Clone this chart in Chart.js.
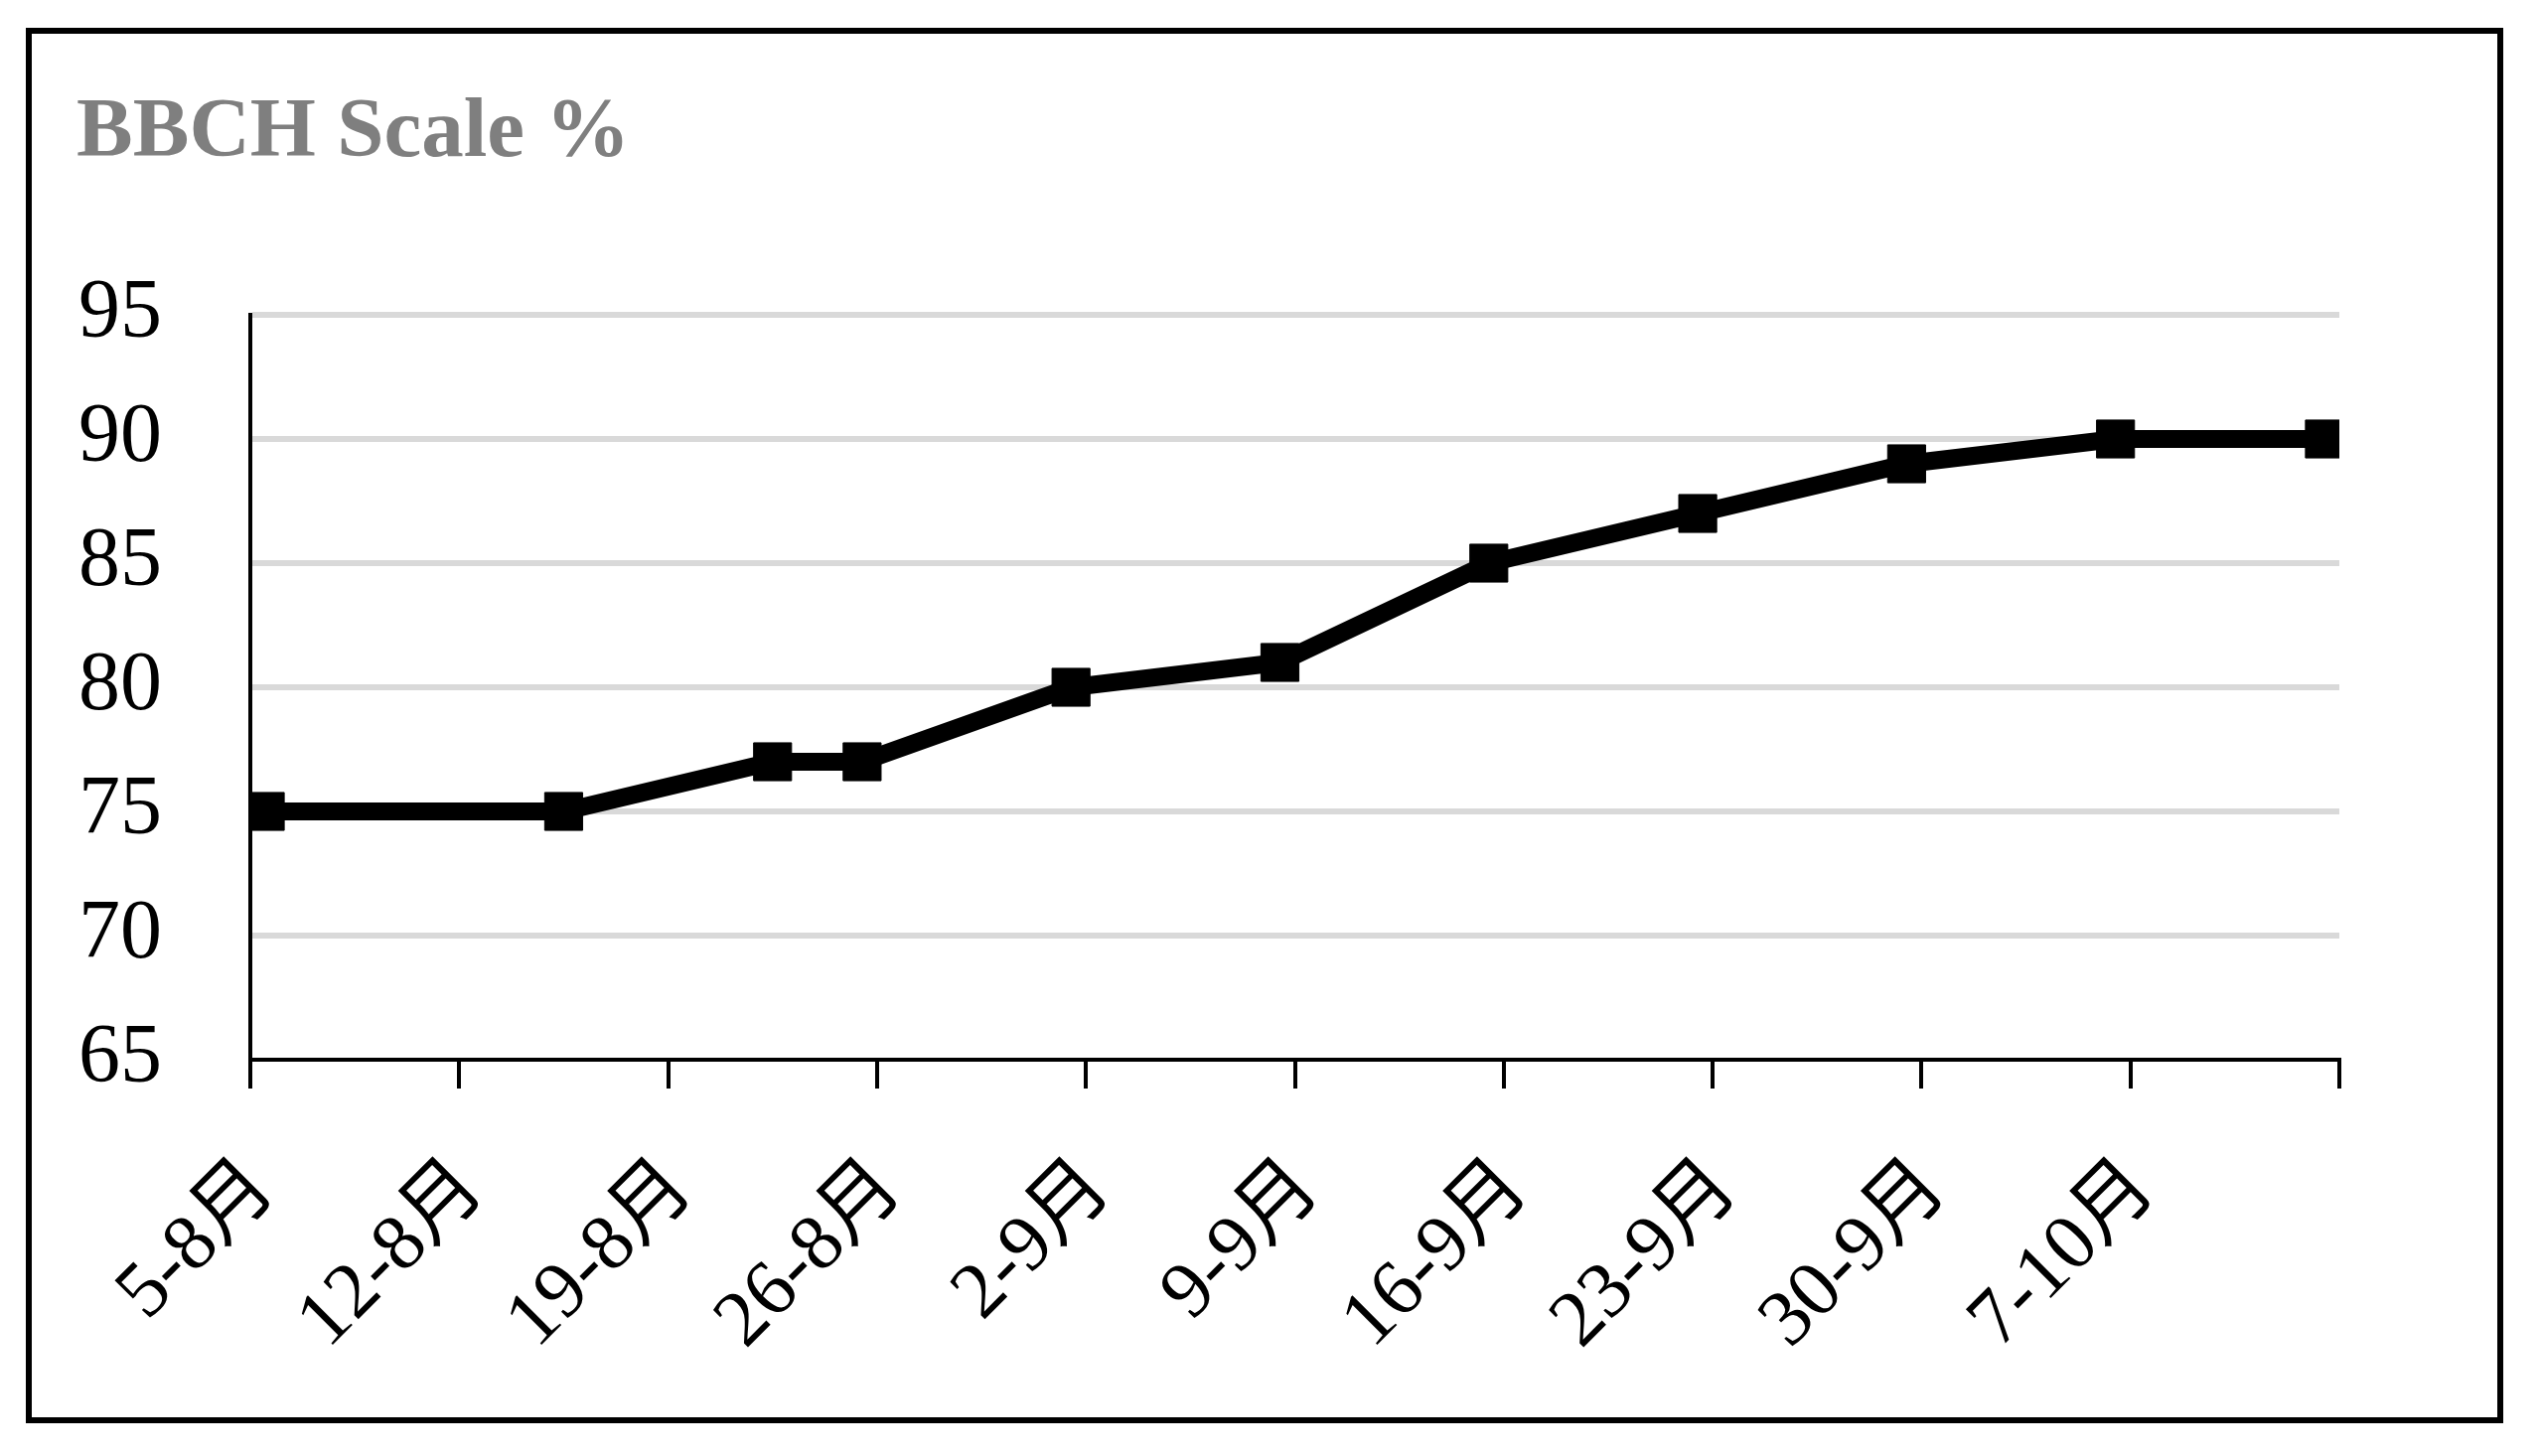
<!DOCTYPE html>
<html>
<head>
<meta charset="utf-8">
<script src="https://cdn.jsdelivr.net/npm/chart.js@4.4.0/dist/chart.umd.min.js"></script>
<style>
    html, body { margin: 0; padding: 0; background: #fff; }
    #wrap { position: relative; width: 2558px; height: 1466px; }
    #frame {
        position: absolute; left: 26px; top: 28px; width: 2494px; height: 1405px;
        box-sizing: border-box; border: 6px solid #000; pointer-events: none;
    }
    canvas { position: absolute; left: 0; top: 0; }
</style>
</head>
<body>
<div id="wrap">
    <canvas id="chart" width="2558" height="1466"></canvas>
    <div id="frame"></div>
</div>
<script>
// sampling dates (day-month) and BBCH values
const sampleDates = ['5-8', '15-8', '22-8', '25-8', '1-9', '8-9', '15-9', '22-9', '29-9', '6-10', '13-10'];
const bbchValues = [75, 75, 77, 77, 80, 81, 85, 87, 89, 90, 90];

// weekly date axis, starting 5 Aug
const axisStart = '5-8';
const axisDays = 70;
const tickLabels = ['5-8月', '12-8月', '19-8月', '26-8月', '2-9月', '9-9月', '16-9月', '23-9月', '30-9月', '7-10月'];

const yMin = 65;
const yMax = 95;

function dayOf(dm) {
    const [d, m] = dm.split('-').map(Number);
    return Date.UTC(2020, m - 1, d) / 86400000;
}

// Excel date axis puts each point in the middle of its day
const points = sampleDates.map((dm, i) => ({
    x: dayOf(dm) - dayOf(axisStart) + 0.5,
    y: bbchValues[i],
}));

const serif = '"Liberation Serif", "Noto Sans CJK SC", serif';

new Chart(document.getElementById('chart'), {
    type: 'line',
    data: {
        datasets: [{
            data: points,
            borderColor: '#000',
            backgroundColor: '#000',
            borderWidth: 18,
            tension: 0,
            pointStyle: 'rect',
            pointRadius: 27,
            pointBorderWidth: 1,
            pointBackgroundColor: '#000',
            pointBorderColor: '#000',
        }],
    },
    options: {
        responsive: false,
        animation: false,
        devicePixelRatio: 1,
        layout: { padding: { left: 77, right: 203, top: 0, bottom: 0 } },
        plugins: {
            legend: { display: false },
            tooltip: { enabled: false },
            title: {
                display: true,
                text: 'BBCH Scale %',
                align: 'start',
                color: '#7f7f7f',
                font: { family: serif, size: 85, weight: 'bold', lineHeight: 1.2 },
                padding: { top: 84, bottom: 131 },
            },
        },
        scales: {
            x: {
                type: 'linear',
                min: 0,
                max: axisDays,
                afterFit(scale) { scale.height = 399; },
                afterBuildTicks(scale) {
                    scale.ticks = [];
                    for (let v = 0; v <= axisDays; v += 7) scale.ticks.push({ value: v });
                },
                grid: {
                    drawOnChartArea: false,
                    drawTicks: true,
                    tickLength: 29,
                    color: '#000',
                    lineWidth: 4,
                },
                border: { display: true, color: '#000', width: 4 },
                ticks: {
                    autoSkip: false,
                    minRotation: 45,
                    maxRotation: 45,
                    padding: 54,
                    labelOffset: 13,
                    color: '#000',
                    font: { family: serif, size: 80 },
                    callback: (v, i) => tickLabels[i] ?? '',
                },
            },
            y: {
                min: yMin,
                max: yMax,
                afterFit(scale) { scale.width = 175; },
                grid: {
                    drawTicks: false,
                    lineWidth: 6,
                    color: (ctx) => (ctx.tick && ctx.tick.value === yMin ? 'rgba(0,0,0,0)' : '#d9d9d9'),
                },
                border: { display: true, color: '#000', width: 4 },
                ticks: {
                    stepSize: 5,
                    padding: 89,
                    color: '#000',
                    font: { family: serif, size: 84 },
                },
            },
        },
    },
});
</script>
</body>
</html>
